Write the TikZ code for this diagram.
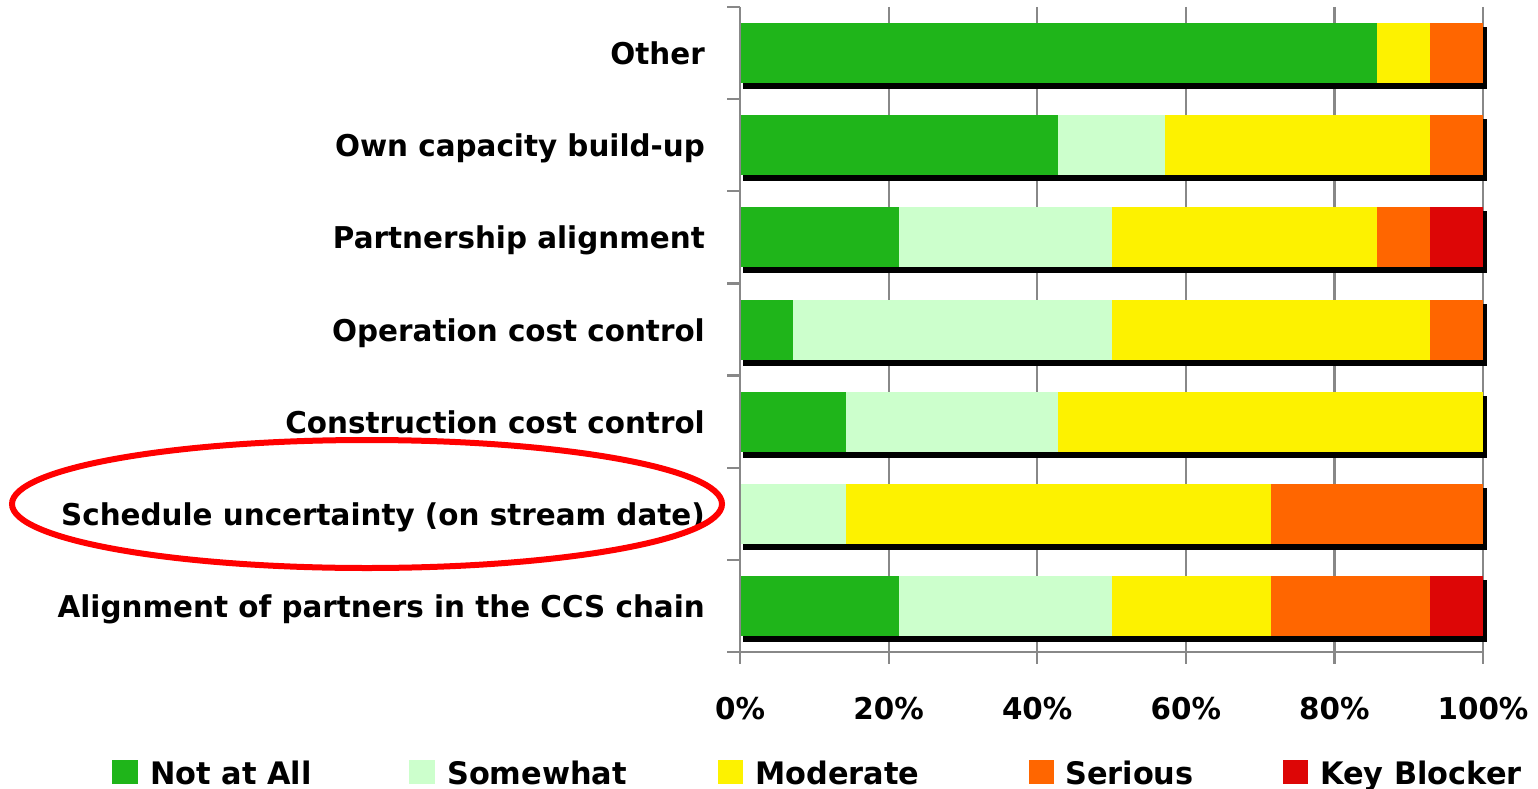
\documentclass[tikz,border=0pt]{standalone}
\usepackage{fontspec}
\newfontfamily\lab{DejaVu Sans}[FakeStretch=0.98]
\definecolor{cg}{HTML}{1FB51A}
\definecolor{cs}{HTML}{CCFFCC}
\definecolor{cy}{HTML}{FDF200}
\definecolor{co}{HTML}{FF6600}
\definecolor{cr}{HTML}{DD0606}
\definecolor{axgray}{HTML}{888888}
\tikzset{
  lbl/.style={anchor=base east, inner sep=0pt},
  pct/.style={anchor=base, inner sep=0pt},
  legtxt/.style={anchor=base west, inner sep=0pt, font=\lab\bfseries\fontsize{31}{36}\selectfont},
  grid line/.style={draw=axgray, line width=2.2pt},
  shadowbar/.style={fill=black},
  circlemark/.style={draw=red, line width=6pt},
}
\newcommand\barrow[2]{%
  \fill[shadowbar] (743,#1-26) rectangle (1487,#1+36);
  \foreach \a/\b/\c in {#2}{\fill[\c] (740+\a*53.071,#1-30) rectangle (740+\b*53.071,#1+30);}
}
\begin{document}
\begin{tikzpicture}[x=1pt,y=-1pt,font=\lab\bfseries\fontsize{30}{36}\selectfont]
\useasboundingbox (0,0) rectangle (1538,789);
% gridlines
\foreach \k in {1,...,5}{\draw[grid line] (740+\k*148.6,7) -- (740+\k*148.6,652);}
% bars
\barrow{53.07}{0/12/cg,12/13/cy,13/14/co}
\barrow{145.2}{0/6/cg,6/8/cs,8/13/cy,13/14/co}
\barrow{237.4}{0/3/cg,3/7/cs,7/12/cy,12/13/co,13/14/cr}
\barrow{329.5}{0/1/cg,1/7/cs,7/13/cy,13/14/co}
\barrow{421.6}{0/2/cg,2/6/cs,6/14/cy}
\barrow{513.8}{0/2/cs,2/10/cy,10/14/co}
\barrow{605.9}{0/3/cg,3/7/cs,7/10/cy,10/13/co,13/14/cr}
% axes
\draw[grid line] (740,7) -- (740,664);
\draw[grid line] (727,652) -- (1483,652);
\foreach \k in {0,...,7}{\draw[grid line] (727,7+\k*92.143) -- (740,7+\k*92.143);}
\foreach \k in {1,...,5}{\draw[grid line] (740+\k*148.6,652) -- (740+\k*148.6,664);}
% category labels
\node[lbl] (l1) at (705,64.6) {Other};
\node[lbl] (l2) at (705,156.7) {Own capacity build-up};
\node[lbl] (l3) at (705,248.9) {Partnership alignment};
\node[lbl] (l4) at (705,341) {Operation cost control};
\node[lbl] (l5) at (705,433.1) {Construction cost control};
\node[lbl] (l6) at (705,525.3) {Schedule uncertainty (on stream date)};
\node[lbl] (l7) at (705,617.4) {Alignment of partners in the CCS chain};
% percent labels
\node[pct] (p0) at (740,719) {0\%};
\node[pct] (p1) at (888.6,719) {20\%};
\node[pct] (p2) at (1037.2,719) {40\%};
\node[pct] (p3) at (1185.8,719) {60\%};
\node[pct] (p4) at (1334.4,719) {80\%};
\node[pct] (p5) at (1483,719) {100\%};
% legend
\fill[cg] (112,760) rectangle (138,784);
\node[legtxt] (g1) at (150,784) {Not at All};
\fill[cs] (409,760) rectangle (435,784);
\node[legtxt] (g2) at (447,784) {Somewhat};
\fill[cy] (718,760) rectangle (743,784);
\node[legtxt] (g3) at (755,784) {Moderate};
\fill[co] (1029,760) rectangle (1054,784);
\node[legtxt] (g4) at (1065,784) {Serious};
\fill[cr] (1283,760) rectangle (1308,784);
\node[legtxt] (g5) at (1320,784) {Key Blocker};
% highlight ellipse
\draw[circlemark] (367,504) ellipse [x radius=355, y radius=64];
\end{tikzpicture}
\end{document}
